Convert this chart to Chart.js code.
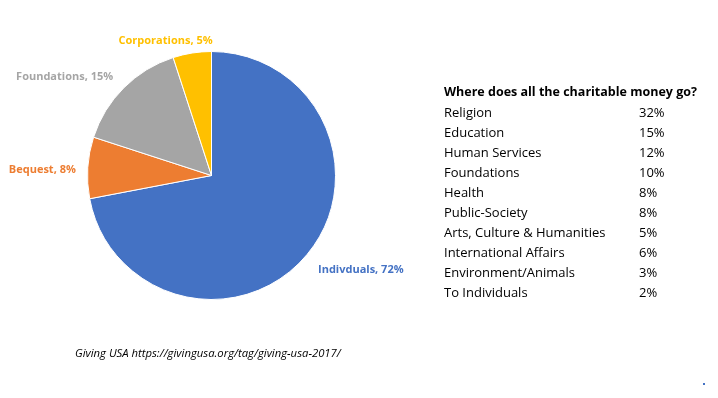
<!DOCTYPE html>
<html>
<head>
<meta charset="utf-8">
<script src="https://cdn.jsdelivr.net/npm/chart.js@4"></script>
<style>
  body { margin: 0; background: #fff; }
  #wrap { position: relative; width: 718px; height: 398px; overflow: hidden; }
  #pie { position: absolute; left: 0; top: 0; }
  #table { position: absolute; left: 444px; top: 82px; font-family: "Open Sans", sans-serif; font-size: 13px; color: #000; }
  #table .title { font-weight: bold; font-size: 12.5px; height: 20px; line-height: 20px; }
  #table .row { height: 20px; line-height: 20px; position: relative; }
  #table .pct { position: absolute; left: 195px; top: 0; }
  #source { position: absolute; left: 75px; top: 345px; font-family: "Open Sans", sans-serif; font-style: italic; font-size: 11.3px; color: #000; }
  #dot { position: absolute; left: 703px; top: 383px; width: 2px; height: 2px; background: #4472c4; }
</style>
</head>
<body>
<div id="wrap">
  <canvas id="pie" width="718" height="398"></canvas>
  <div id="table"></div>
  <div id="source">Giving USA https://givingusa.org/tag/giving-usa-2017/</div>
  <div id="dot"></div>
</div>
<script>
// pie: who gives
var sources = ["Indivduals", "Bequest", "Foundations", "Corporations"];
var shares = [72, 8, 15, 5];
var colors = ["#4472c4", "#ed7d31", "#a5a5a5", "#ffc000"];

// table: where it goes
var uses = ["Religion", "Education", "Human Services", "Foundations", "Health",
  "Public-Society", "Arts, Culture & Humanities", "International Affairs",
  "Environment/Animals", "To Individuals"];
var usePct = [32, 15, 12, 10, 8, 8, 5, 6, 3, 2];

var html = '<div class="title">Where does all the charitable money go?</div>';
for (var i = 0; i < uses.length; i++) {
  html += '<div class="row">' + uses[i].replace("&", "&amp;") +
    '<span class="pct">' + usePct[i] + '%</span></div>';
}
document.getElementById("table").innerHTML = html;

// outside-end labels like Excel
var outsideLabels = {
  id: "outsideLabels",
  afterDatasetsDraw: function (chart, args, opts) {
    var c = chart.ctx;
    var meta = chart.getDatasetMeta(0);
    c.save();
    c.font = "bold 11px 'Open Sans', sans-serif";
    c.textBaseline = "middle";
    meta.data.forEach(function (arc, i) {
      var mid = (arc.startAngle + arc.endAngle) / 2;
      var dx = Math.cos(mid), dy = Math.sin(mid);
      var r = arc.outerRadius + 14;
      var x = arc.x + dx * r, y = arc.y + dy * r;
      var txt = chart.data.labels[i] + ", " + chart.data.datasets[0].data[i] + "%";
      var w = c.measureText(txt).width;
      var n = opts.nudge[i] || [0, 0];
      var left = x - w * (1 - dx) / 2 + n[0];
      c.fillStyle = colors[i];
      c.textAlign = "left";
      c.fillText(txt, left, y + dy * 7 + n[1]);
    });
    c.restore();
  }
};

new Chart(document.getElementById("pie").getContext("2d"), {
  type: "pie",
  data: {
    labels: sources,
    datasets: [{
      data: shares,
      backgroundColor: colors,
      borderColor: "#ffffff",
      borderWidth: 1
    }]
  },
  options: {
    responsive: false,
    animation: false,
    layout: { padding: { left: 87, right: 382, top: 51, bottom: 98 } },
    plugins: {
      legend: { display: false },
      tooltip: { enabled: false },
      outsideLabels: { nudge: [[10, 2], [2, 3], [-15, 4], [-17, 9]] }
    }
  },
  plugins: [outsideLabels]
});
</script>
</body>
</html>
